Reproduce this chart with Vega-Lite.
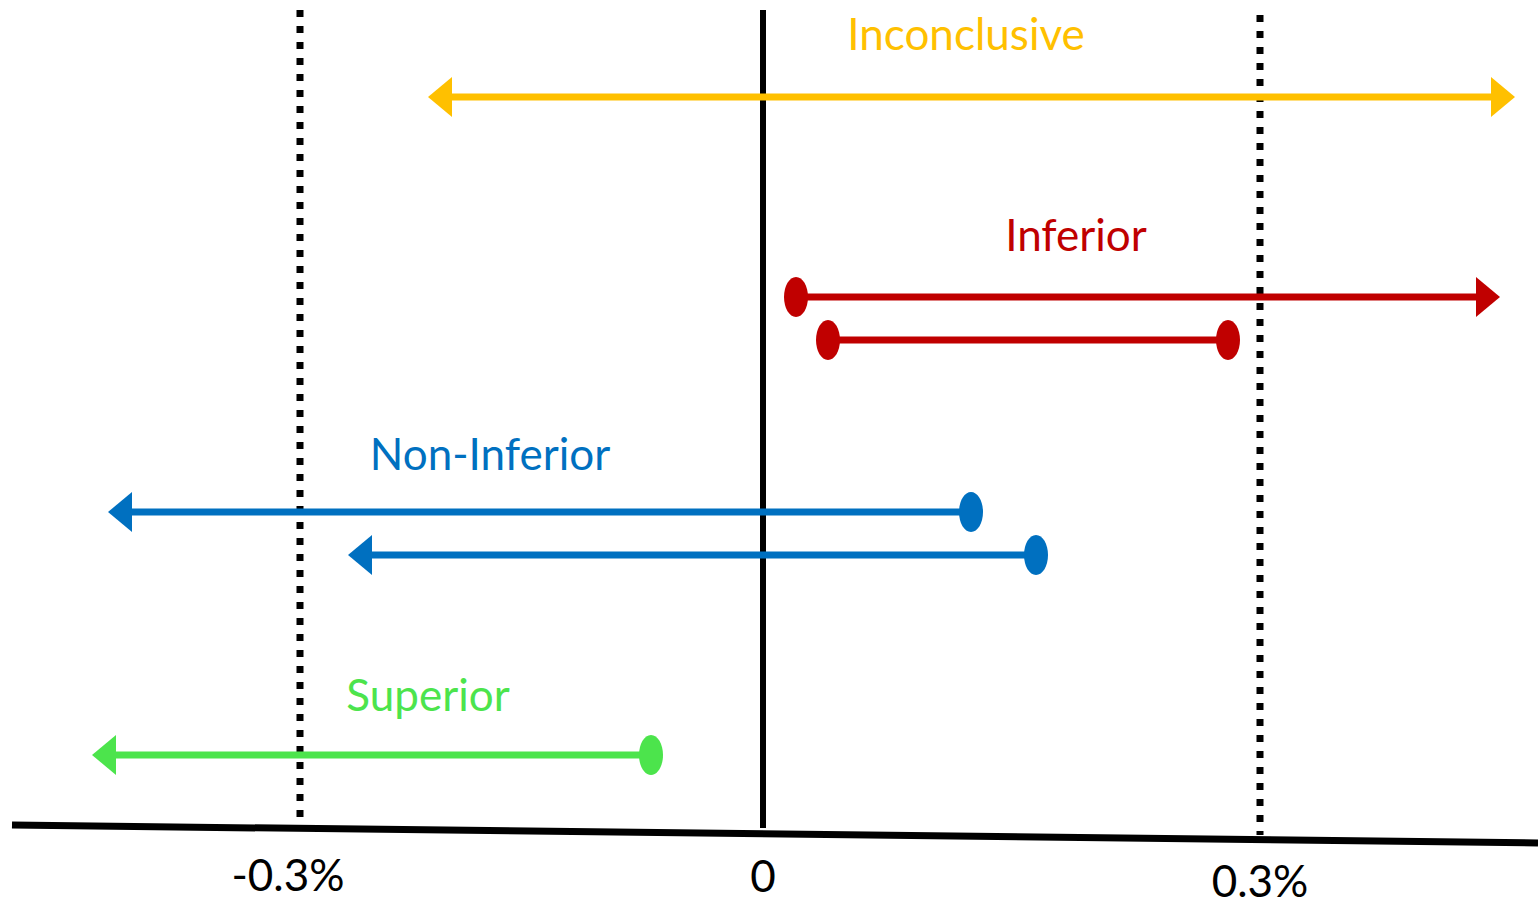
{
  "$schema": "https://vega.github.io/schema/vega-lite/v6.json",
  "width": 1538,
  "height": 905,
  "autosize": {"type": "none"},
  "padding": 0,
  "background": "white",
  "config": {"view": {"stroke": null}},
  "datasets": {
    "intervals": [
      {"group": "Inconclusive", "level": 97, "lo": -0.196875, "hi": 0.458125},
      {"group": "Inferior", "level": 297, "lo": 0.020625, "hi": 0.448125},
      {"group": "Inferior", "level": 340, "lo": 0.040625, "hi": 0.290625},
      {"group": "Non-Inferior", "level": 512, "lo": -0.396875, "hi": 0.13},
      {"group": "Non-Inferior", "level": 555, "lo": -0.246875, "hi": 0.170625},
      {"group": "Superior", "level": 755, "lo": -0.406875, "hi": -0.07}
    ],
    "ends": [
      {"group": "Inconclusive", "level": 97, "x": -0.209375, "end": "left"},
      {"group": "Inconclusive", "level": 97, "x": 0.47, "end": "right"},
      {"group": "Inferior", "level": 297, "x": 0.020625, "end": "dot"},
      {"group": "Inferior", "level": 297, "x": 0.460625, "end": "right"},
      {"group": "Inferior", "level": 340, "x": 0.040625, "end": "dot"},
      {"group": "Inferior", "level": 340, "x": 0.290625, "end": "dot"},
      {"group": "Non-Inferior", "level": 512, "x": -0.409375, "end": "left"},
      {"group": "Non-Inferior", "level": 512, "x": 0.13, "end": "dot"},
      {"group": "Non-Inferior", "level": 555, "x": -0.259375, "end": "left"},
      {"group": "Non-Inferior", "level": 555, "x": 0.170625, "end": "dot"},
      {"group": "Superior", "level": 755, "x": -0.419375, "end": "left"},
      {"group": "Superior", "level": 755, "x": -0.07, "end": "dot"}
    ],
    "margins": [
      {"x": -0.289375, "top": 10, "bottom": 828},
      {"x": 0.310625, "top": 15, "bottom": 835}
    ],
    "zero": [{"x": 0, "top": 10, "bottom": 828}],
    "baseline": [{"x": -0.469375, "x2": 0.484375, "y": 825, "y2": 843}],
    "labels": [
      {"text": "Inconclusive", "group": "Inconclusive", "x": 0.126875, "level": 50},
      {"text": "Inferior", "group": "Inferior", "x": 0.195625, "level": 251},
      {"text": "Non-Inferior", "group": "Non-Inferior", "x": -0.170625, "level": 470},
      {"text": "Superior", "group": "Superior", "x": -0.209375, "level": 711},
      {"text": "-0.3%", "group": "axis", "x": -0.296875, "level": 891},
      {"text": "0", "group": "axis", "x": 0, "level": 892},
      {"text": "0.3%", "group": "axis", "x": 0.310625, "level": 897}
    ]
  },
  "resolve": {"scale": {"color": "shared"}},
  "layer": [
    {
      "data": {"name": "zero"},
      "mark": {"type": "rule", "strokeWidth": 6, "color": "black"},
      "encoding": {
        "x": {"field": "x", "type": "quantitative", "scale": {"domain": [-0.476875, 0.484375], "nice": false, "zero": false}, "axis": null},
        "y": {"field": "top", "type": "quantitative", "scale": {"domain": [0, 905], "nice": false, "zero": false, "reverse": true}, "axis": null},
        "y2": {"field": "bottom"}
      }
    },
    {
      "data": {"name": "margins"},
      "mark": {"type": "rule", "strokeWidth": 7, "strokeDash": [7, 9], "color": "black"},
      "encoding": {
        "x": {"field": "x", "type": "quantitative"},
        "y": {"field": "top", "type": "quantitative"},
        "y2": {"field": "bottom"}
      }
    },
    {
      "data": {"name": "baseline"},
      "mark": {"type": "rule", "strokeWidth": 7, "color": "black"},
      "encoding": {
        "x": {"field": "x", "type": "quantitative"},
        "x2": {"field": "x2"},
        "y": {"field": "y", "type": "quantitative"},
        "y2": {"field": "y2"}
      }
    },
    {
      "data": {"name": "intervals"},
      "mark": {"type": "rule", "strokeWidth": 7},
      "encoding": {
        "x": {"field": "lo", "type": "quantitative"},
        "x2": {"field": "hi"},
        "y": {"field": "level", "type": "quantitative"},
        "color": {
          "field": "group", "type": "nominal", "legend": null,
          "scale": {"domain": ["Inconclusive", "Inferior", "Non-Inferior", "Superior", "axis"],
                    "range": ["#FFC000", "#C00000", "#0070C0", "#4CE44C", "#000000"]}
        }
      }
    },
    {
      "data": {"name": "ends"},
      "mark": {"type": "point", "filled": true, "opacity": 1, "strokeWidth": 0, "size": 576},
      "encoding": {
        "x": {"field": "x", "type": "quantitative"},
        "y": {"field": "level", "type": "quantitative"},
        "color": {"field": "group", "type": "nominal", "legend": null},
        "shape": {
          "field": "end", "type": "nominal", "legend": null,
          "scale": {"domain": ["left", "right", "dot"],
                    "range": ["M0,0 L2,-1.667 L2,1.667 Z", "M0,0 L-2,-1.667 L-2,1.667 Z", "M-1,0 A1,1.667 0 1,1 1,0 A1,1.667 0 1,1 -1,0 Z"]}
        }
      }
    },
    {
      "data": {"name": "labels"},
      "mark": {"type": "text", "font": "Lato", "fontSize": 44, "align": "center", "baseline": "alphabetic"},
      "encoding": {
        "x": {"field": "x", "type": "quantitative"},
        "y": {"field": "level", "type": "quantitative"},
        "text": {"field": "text"},
        "color": {"field": "group", "type": "nominal", "legend": null}
      }
    }
  ]
}
